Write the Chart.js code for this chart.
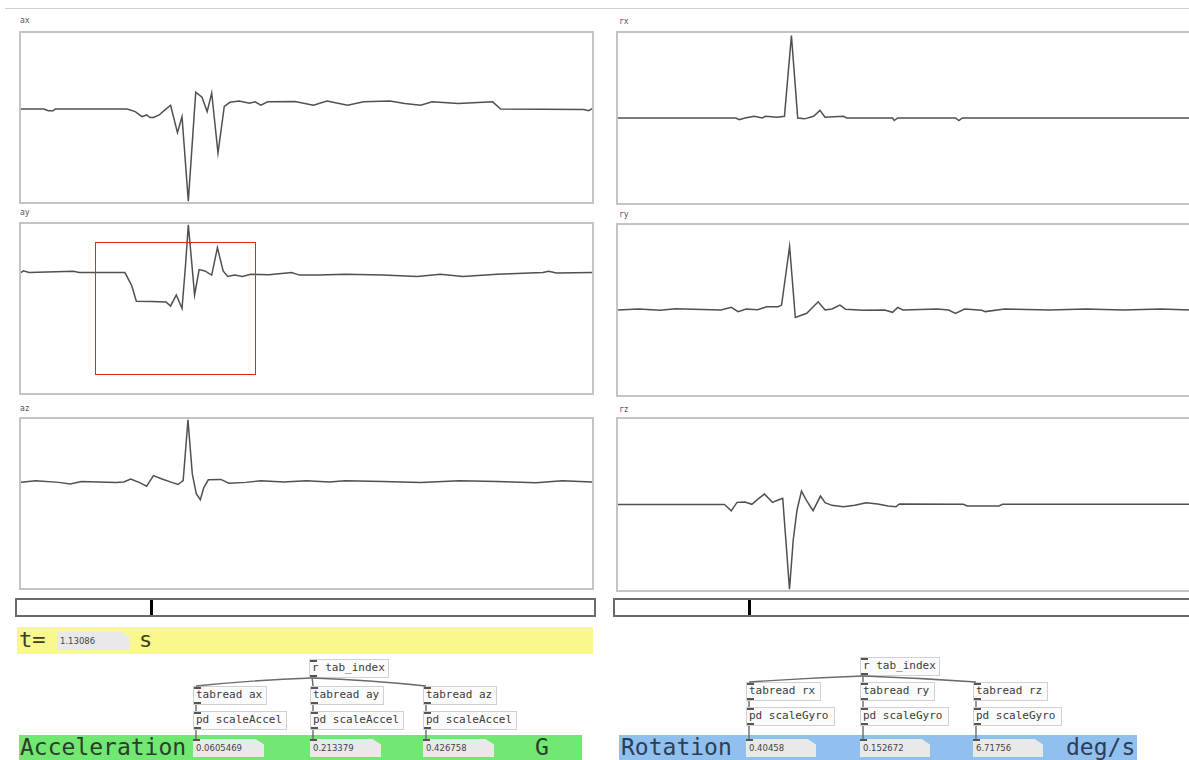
<!DOCTYPE html>
<html>
<head>
<meta charset="utf-8">
<script src="https://cdn.jsdelivr.net/npm/chart.js@4.4.1/dist/chart.umd.min.js"></script>
<style>
  html,body{margin:0;padding:0;background:#fff;width:1189px;height:760px;overflow:hidden;position:relative;font-family:"DejaVu Sans Mono",monospace;}
  .abs{position:absolute;}
  .plot{position:absolute;border:2px solid #c4c4c4;box-sizing:border-box;background:#fff;}
  .plot canvas{display:block;}
  .lbl{position:absolute;font-size:8px;color:#555;font-family:"DejaVu Sans Mono",monospace;}
  .obj{position:absolute;border:1px solid #d0d0d0;background:#fbfbfb;font-size:11px;color:#3a3a3a;line-height:16px;padding-left:2px;box-sizing:border-box;white-space:nowrap;}
  .obj .in,.obj .out,.num .in,.num .out{position:absolute;left:0;width:7px;height:2px;background:#555;}
  .obj .in,.num .in{top:0}
  .obj .out{bottom:0}
  .num{position:absolute;background:#e9e9e9;font-family:"DejaVu Sans",sans-serif;font-size:8.5px;color:#444;line-height:18px;padding-left:3px;box-sizing:border-box;height:18px;clip-path:polygon(0 0,88% 0,100% 30%,100% 100%,0 100%);}
  .slider{position:absolute;border:2px solid #6a6a6a;box-sizing:border-box;background:#fff;}
  .slider .mark{position:absolute;top:0;bottom:0;width:3px;background:#000;}
</style>
</head>
<body>
<script>
// ---- data (time in s, value in normalized display units: box top = 1, bottom = -1) ----
const axT = [0,0.20,0.24,0.28,0.30,0.93,1.00,1.06,1.10,1.13,1.16,1.21,1.26,1.31,1.37,1.41,1.465,1.53,1.585,1.63,1.67,1.725,1.78,1.83,1.91,2.00,2.05,2.10,2.16,2.40,2.56,2.68,2.86,3.00,3.23,3.36,3.50,3.60,3.83,4.13,4.20,4.93,4.97,5.0];
const axV = [0.10,0.10,0.08,0.08,0.10,0.10,0.07,0.01,0.03,0.00,0.00,0.03,0.09,0.145,-0.18,0.01,-0.99,0.30,0.24,0.07,0.29,-0.42,0.13,0.18,0.195,0.17,0.185,0.145,0.185,0.19,0.145,0.195,0.145,0.185,0.195,0.165,0.145,0.185,0.165,0.185,0.10,0.095,0.08,0.105];

const ayT = [0,0.02,0.07,0.46,0.51,0.91,0.97,1.01,1.14,1.27,1.31,1.36,1.41,1.44,1.465,1.49,1.52,1.56,1.61,1.67,1.72,1.77,1.81,1.87,1.94,2.01,2.17,2.37,2.44,2.61,2.84,3.17,3.47,3.67,3.87,4.17,4.57,4.62,4.69,5.0];
const ayV = [0.425,0.445,0.425,0.44,0.425,0.425,0.27,0.087,0.083,0.076,0.03,0.16,0.0,0.50,0.99,0.62,0.16,0.46,0.445,0.395,0.72,0.445,0.38,0.395,0.38,0.405,0.40,0.425,0.395,0.395,0.405,0.395,0.38,0.405,0.38,0.405,0.425,0.44,0.42,0.425];

const azT = [0,0.13,0.33,0.43,0.53,0.83,0.90,0.96,1.035,1.10,1.16,1.235,1.32,1.375,1.42,1.462,1.50,1.535,1.57,1.60,1.64,1.75,1.82,1.97,2.10,2.30,2.50,2.70,2.84,3.17,3.50,3.84,4.17,4.51,4.74,5.0];
const azV = [0.25,0.27,0.25,0.23,0.26,0.25,0.255,0.29,0.25,0.205,0.33,0.29,0.25,0.225,0.27,0.99,0.35,0.115,0.045,0.185,0.28,0.285,0.24,0.25,0.27,0.255,0.27,0.255,0.27,0.26,0.25,0.27,0.26,0.245,0.27,0.255];

const rxT = [0,1.03,1.06,1.11,1.19,1.26,1.29,1.39,1.455,1.516,1.571,1.63,1.71,1.765,1.81,1.97,2.00,2.40,2.415,2.445,2.95,2.98,3.01,5.0];
const rxV = [0,0,-0.02,0,0.02,0,0.02,0.01,0.02,0.97,0.0,-0.01,0.02,0.09,0.01,0.02,0,0,-0.03,0,0,-0.03,0,0];

const ryT = [0,0.18,0.37,0.50,0.90,0.99,1.05,1.12,1.22,1.30,1.40,1.43,1.50,1.55,1.65,1.75,1.81,1.87,1.94,1.99,2.14,2.33,2.40,2.445,2.49,2.79,2.89,2.95,3.03,3.18,3.21,3.38,3.77,4.09,4.42,4.75,5.0];
const ryV = [0,0.012,-0.004,0.016,0,0.031,-0.019,0.012,0.004,0.039,0.039,0.058,0.748,-0.089,-0.039,0.097,0,0.012,0.058,0.008,-0.004,0,-0.027,0.031,0,0.012,0,-0.039,0.012,-0.004,-0.019,0.012,0,0.012,0,0.012,0];

const rzT = [0,0.93,0.945,0.99,1.04,1.11,1.17,1.22,1.28,1.35,1.40,1.44,1.467,1.499,1.532,1.565,1.604,1.646,1.705,1.77,1.81,1.87,1.97,2.07,2.17,2.27,2.36,2.43,2.46,3.02,3.05,3.33,3.36,5.0];
const rzV = [0,0,-0.017,-0.075,0.025,0.029,0.002,0.06,0.122,0.025,0.052,0.072,-0.412,-0.992,-0.412,-0.064,0.157,0.052,-0.072,0.099,0.021,-0.01,-0.025,-0.01,0.021,0.006,-0.017,-0.025,0.006,0.002,-0.017,-0.017,0.002,0.002];

const plotNames = ["ax","ay","az","rx","ry","rz"];
const timeValue = "1.13086";
const accelNames = ["tabread ax","tabread ay","tabread az"];
const gyroNames = ["tabread rx","tabread ry","tabread rz"];
const accelValues = ["0.0605469","0.213379","0.426758"];
const gyroValues = ["0.40458","0.152672","6.71756"];
</script>

<!-- top rule -->
<div class="abs" style="left:5px;top:8px;width:1184px;height:1px;background:#cfcfcf"></div>

<div id="plots"></div>

<!-- red annotation rectangle -->
<div class="abs" style="left:95px;top:242px;width:161px;height:133px;border:1px solid #e8231f;box-sizing:border-box;z-index:5"></div>

<!-- sliders -->
<div class="slider" style="left:15px;top:598px;width:581px;height:19px"><div class="mark" style="left:133px"></div></div>
<div class="slider" style="left:613px;top:598px;width:590px;height:19px"><div class="mark" style="left:133px"></div></div>

<!-- yellow time bar -->
<div class="abs" style="left:17px;top:627px;width:576px;height:27px;background:#f8f88e"></div>
<div class="abs" style="left:19px;top:626px;font-size:22px;color:#3d3d20;line-height:28px">t=</div>
<div class="num" style="left:57px;top:632px;width:73px;font-size:8.5px" id="tnum"></div>
<div class="abs" style="left:139px;top:626px;font-size:22px;color:#3d3d20;line-height:28px">s</div>

<!-- green / blue bars -->
<div class="abs" style="left:19px;top:735px;width:563px;height:25px;background:#71e871"></div>
<div class="abs" style="left:20px;top:733px;font-size:23px;color:#2e3b2e;line-height:28px">Acceleration</div>
<div class="abs" style="left:535px;top:733px;font-size:23px;color:#2e3b2e;line-height:28px">G</div>

<div class="abs" style="left:619px;top:735px;width:518px;height:25px;background:#90c1ee"></div>
<div class="abs" style="left:621px;top:733px;font-size:23px;color:#2d3d58;line-height:28px">Rotation</div>
<div class="abs" style="left:1066px;top:733px;font-size:23px;color:#2d3d58;line-height:28px">deg/s</div>

<svg class="abs" style="left:0;top:0;z-index:3" width="1189" height="760" id="wires"></svg>
<div id="objs"></div>

<script>
document.getElementById('tnum').textContent = timeValue;

const boxes = [
  {l:19, t:31, w:575, h:173, lx:20, ly:16},
  {l:19, t:222, w:575, h:173, lx:20, ly:208},
  {l:19, t:417, w:575, h:173, lx:20, ly:404},
  {l:616, t:31, w:576, h:174, lx:619, ly:17},
  {l:616, t:223, w:576, h:174, lx:619, ly:210},
  {l:616, t:417, w:576, h:175, lx:619, ly:405}
];
const series = [[axT,axV],[ayT,ayV],[azT,azV],[rxT,rxV],[ryT,ryV],[rzT,rzV]];
const plotsDiv = document.getElementById('plots');
boxes.forEach((b,i)=>{
  const lab = document.createElement('div');
  lab.className='lbl'; lab.style.left=b.lx+'px'; lab.style.top=b.ly+'px'; lab.textContent=plotNames[i];
  plotsDiv.appendChild(lab);
  const d = document.createElement('div');
  d.className='plot';
  d.style.left=b.l+'px'; d.style.top=b.t+'px'; d.style.width=b.w+'px'; d.style.height=b.h+'px';
  const c = document.createElement('canvas');
  c.width=b.w-4; c.height=b.h-4;
  c.style.width=(b.w-4)+'px'; c.style.height=(b.h-4)+'px';
  d.appendChild(c);
  plotsDiv.appendChild(d);
  const [T,V] = series[i];
  new Chart(c,{
    type:'line',
    data:{datasets:[{data:T.map((t,k)=>({x:t,y:V[k]})),borderColor:'#505050',borderWidth:1.5,pointRadius:0,tension:0,fill:false}]},
    options:{
      responsive:false,animation:false,parsing:true,
      layout:{padding:0},
      plugins:{legend:{display:false},tooltip:{enabled:false}},
      scales:{
        x:{type:'linear',min:0,max:5,display:false},
        y:{min:-1,max:1,display:false}
      }
    }
  });
});

// Pd objects
const objs = document.getElementById('objs');
function obj(x,y,w,text,outlet=true){
  const o=document.createElement('div');
  o.className='obj'; o.style.left=x+'px'; o.style.top=y+'px'; o.style.width=w+'px'; o.style.height='19px';
  o.innerHTML='<span class="in"></span>'+(outlet?'<span class="out"></span>':'')+text;
  objs.appendChild(o);
}
function num(x,y,w,text){
  const o=document.createElement('div');
  o.className='num'; o.style.left=x+'px'; o.style.top=y+'px'; o.style.width=w+'px';
  o.innerHTML='<span class="in"></span>'+text;
  objs.appendChild(o);
}
const wires = document.getElementById('wires');
function wire(x1,y1,x2,y2){
  const p=document.createElementNS('http://www.w3.org/2000/svg','path');
  const mx=(x1+x2)/2;
  p.setAttribute('d',`M${x1},${y1} Q${mx},${y1+2} ${x2},${y2}`);
  p.setAttribute('stroke','#6a6a6a');p.setAttribute('stroke-width','1.4');p.setAttribute('fill','none');
  wires.appendChild(p);
}

// left group
obj(309,659,80,'r tab_index');
const lx=[193,310,423];
lx.forEach((x,i)=>{
  obj(x,686,74,accelNames[i]);
  obj(x,711,94,'pd scaleAccel');
  num(x,739,71,accelValues[i]);
  wire(312,678,x+3,686);
  wire(x+3,705,x+3,711);
  wire(x+3,730,x+3,739);
});
// right group
obj(860,657,80,'r tab_index');
const rx=[746,860,973];
rx.forEach((x,i)=>{
  obj(x,682,75,gyroNames[i]);
  obj(x,707,89,'pd scaleGyro');
  num(x,739,70,gyroValues[i]);
  wire(863,676,x+3,682);
  wire(x+3,701,x+3,707);
  wire(x+3,726,x+3,739);
});
</script>
</body>
</html>
